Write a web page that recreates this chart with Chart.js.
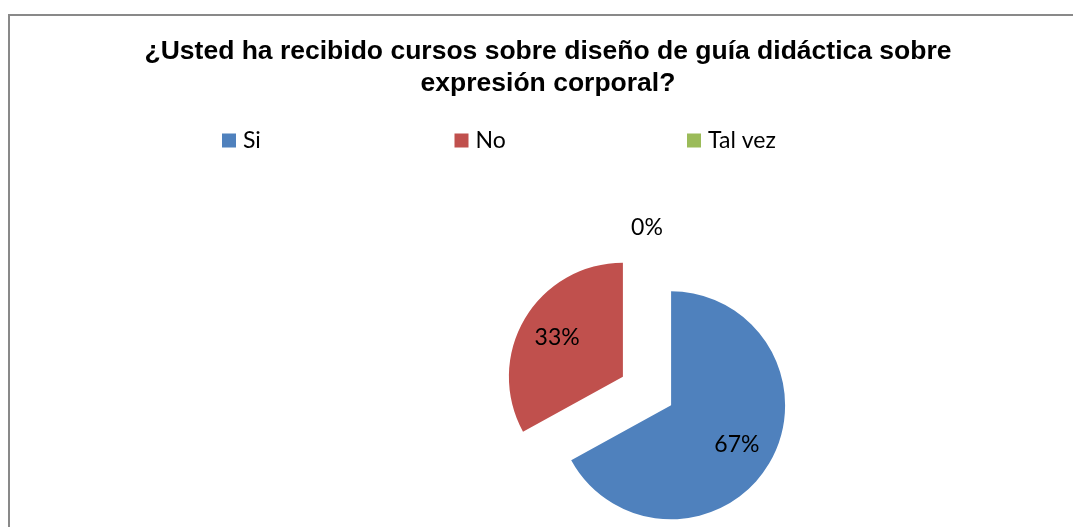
<!DOCTYPE html>
<html>
<head>
<meta charset="utf-8">
<script src="https://cdn.jsdelivr.net/npm/chart.js@4.4.1/dist/chart.umd.min.js"></script>
<style>
  html, body { margin: 0; padding: 0; background: #fff; overflow: hidden; }
  body { width: 1073px; height: 527px; position: relative; }
  .frame { position: absolute; left: 8px; top: 14px; width: 1076px; height: 656px; border: 2px solid #898989; }
  canvas { display: block; }
</style>
</head>
<body>
<div class="frame"><canvas id="myChart" width="1076" height="656"></canvas></div>
<script>
var titleLines = ['¿Usted ha recibido cursos sobre diseño de guía didáctica sobre', 'expresión corporal?'];
var categories = ['Si', 'No', 'Tal vez'];
var percentages = [67, 33, 0];
var sliceColors = ['#4F81BD', '#C0504D', '#9BBB59'];

// arc that is pulled out from the centre along its middle angle (like Excel's exploded pie)
class ExplodedArc extends Chart.ArcElement {
    static id = 'explodedArc';
    static defaults = { explode: 0 };
    draw(ctx) {
        var mid = (this.startAngle + this.endAngle) / 2;
        var d = this.options.explode || 0;
        ctx.save();
        ctx.translate(Math.cos(mid) * d, Math.sin(mid) * d);
        super.draw(ctx);
        ctx.restore();
    }
}

class ExplodedPie extends Chart.PieController {
    static id = 'explodedPie';
    static defaults = { dataElementType: 'explodedArc' };
}

Chart.register(ExplodedArc, ExplodedPie);

// moves the pie inside the chart area and writes the percentages on the slices
var pieDecor = {
    id: 'pieDecor',
    beforeDatasetsDraw: function (chart, args, opts) {
        chart.ctx.save();
        chart.ctx.translate(opts.dx, opts.dy);
    },
    afterDatasetsDraw: function (chart, args, opts) {
        var ctx = chart.ctx;
        var meta = chart.getDatasetMeta(0);
        var values = chart.data.datasets[0].data;
        var total = values.reduce(function (a, b) { return a + b; }, 0);
        ctx.font = opts.font;
        ctx.fillStyle = '#000';
        ctx.textAlign = 'center';
        ctx.textBaseline = 'middle';
        meta.data.forEach(function (arc, i) {
            var p = arc.getProps(['x', 'y', 'startAngle', 'endAngle', 'outerRadius'], true);
            var mid = (p.startAngle + p.endAngle) / 2;
            var d = arc.options.explode || 0;
            var r = values[i] > 0 ? d + p.outerRadius * 0.67 : d + p.outerRadius + 21;
            var pct = Math.round(values[i] / total * 100) + '%';
            ctx.fillText(pct, p.x + Math.cos(mid) * r, p.y + Math.sin(mid) * r);
        });
        ctx.restore();
    }
};

// Excel style legend: one fixed-width column per category
var columnLegend = {
    id: 'columnLegend',
    afterDraw: function (chart, args, opts) {
        var ctx = chart.ctx;
        var colors = chart.data.datasets[0].backgroundColor;
        ctx.save();
        ctx.font = opts.font;
        ctx.textAlign = 'left';
        ctx.textBaseline = 'middle';
        chart.data.labels.forEach(function (label, i) {
            var x = opts.left + i * opts.step;
            ctx.fillStyle = colors[i];
            ctx.fillRect(x, opts.y - opts.box / 2, opts.box, opts.box);
            ctx.fillStyle = '#000';
            ctx.fillText(label, x + opts.box + opts.gap, opts.y);
        });
        ctx.restore();
    }
};

var ctx = document.getElementById('myChart').getContext('2d');
new Chart(ctx, {
    type: 'explodedPie',
    data: {
        labels: categories,
        datasets: [{
            data: percentages,
            backgroundColor: sliceColors,
            borderWidth: 0,
            explode: 28
        }]
    },
    options: {
        responsive: false,
        animation: false,
        radius: 114,
        layout: { padding: 0 },
        plugins: {
            legend: { display: false },
            tooltip: { enabled: false },
            title: {
                display: true,
                text: titleLines,
                color: '#000',
                font: { family: "'Liberation Sans', Arial, sans-serif", size: 26.5, weight: 'bold', lineHeight: 1.21 },
                padding: { top: 20, bottom: 10 }
            },
            pieDecor: { dx: 99, dy: 0, font: "23px Lato, 'Open Sans', sans-serif" },
            columnLegend: { left: 212, step: 232.5, y: 124.5, box: 14, gap: 7, font: "23px Lato, 'Open Sans', sans-serif" }
        }
    },
    plugins: [pieDecor, columnLegend]
});
</script>
</body>
</html>
